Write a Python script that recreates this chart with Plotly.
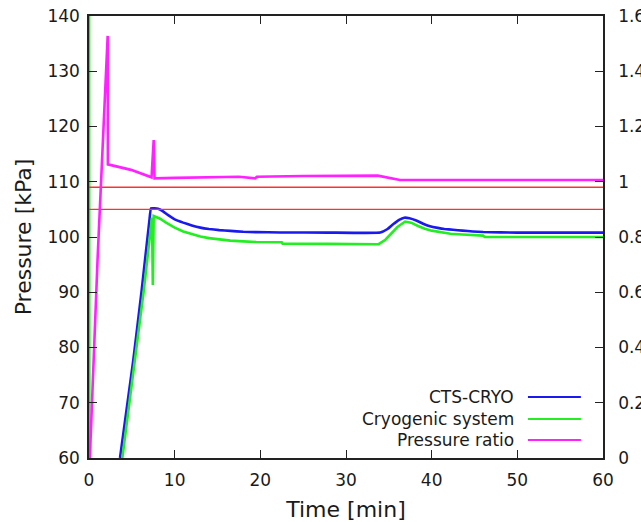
import plotly.graph_objects as go

# ---------------- data ----------------
cts_time = [3.62, 5.17, 6.15, 7.05, 7.24, 8.05, 8.6, 9.2, 10.0, 11.0, 12.0, 13.0, 14.0, 15.2, 16.5, 18.0, 19.5, 22.3,
            28.0, 34.0, 34.8, 35.5, 36.2, 36.8, 37.4, 38.2, 39.0, 39.8, 40.7, 41.5, 42.5, 43.6, 44.8, 46.0, 50.0, 60.0]
cts_pressure = [60.0, 77.7, 90.4, 103.0, 105.2, 105.1, 104.7, 104.0, 103.2, 102.6, 102.1, 101.7, 101.45, 101.25,
                101.1, 100.95, 100.88, 100.82, 100.8, 100.8, 101.4, 102.3, 103.1, 103.5, 103.4, 103.0, 102.4,
                101.95, 101.65, 101.45, 101.3, 101.15, 101.0, 100.9, 100.8, 100.8]

cryo_time = [0.0, 0.05, 3.89, 5.4, 6.4, 7.35, 7.45, 7.55, 8.3, 9.0, 10.0, 11.0, 12.0, 13.0, 14.0, 15.2, 16.5, 18.0,
             19.5, 22.5, 22.6, 28.0, 33.8, 34.6, 35.3, 36.0, 36.9, 37.6, 38.4, 39.2, 40.0, 41.0, 42.2, 43.6, 44.8,
             46.0, 46.2, 50.0, 60.0]
cryo_pressure = [160.0, 20.0, 60.0, 77.7, 90.4, 103.5, 91.3, 103.8, 103.3, 102.6, 101.7, 101.0, 100.5, 100.1, 99.8,
                 99.55, 99.35, 99.2, 99.1, 99.05, 98.8, 98.75, 98.7, 99.5, 100.6, 101.8, 102.8, 102.6, 102.0, 101.5,
                 101.15, 100.85, 100.6, 100.45, 100.3, 100.25, 100.0, 100.0, 100.0]

ratio_time = [0.1, 1.0, 2.18, 2.2, 4.9, 7.3, 7.55, 7.65, 10.0, 14.0, 16.8, 17.3, 17.5, 19.4, 19.6, 25.0, 33.7,
              36.3, 45.0, 60.0]
pressure_ratio = [0.0, 0.72, 1.528, 1.063, 1.043, 1.016, 1.151, 1.0125, 1.014, 1.016, 1.018, 1.016, 1.018, 1.0125,
                  1.018, 1.021, 1.022, 1.0063, 1.0063, 1.0063]

reference_levels = [109.0, 105.0]
time_span = [0.0, 60.0]

series_names = ["CTS-CRYO", "Cryogenic system", "Pressure ratio"]
series_colors = ["#1a1aee", "#22ee22", "#ff22ff"]

x_ticks = [0, 10, 20, 30, 40, 50, 60]
y_ticks = [60, 70, 80, 90, 100, 110, 120, 130, 140]
y2_ticks = [0, 0.2, 0.4, 0.6, 0.8, 1.0, 1.2, 1.4, 1.6]

# ---------------- figure ----------------
FONT = "DejaVu Sans"
TXT = "#1a1a1a"

fig = go.Figure()
fig.add_trace(go.Scatter(x=cts_time, y=cts_pressure, mode="lines", name=series_names[0],
                         line=dict(color=series_colors[0], width=2.6, shape="spline", smoothing=0.3),
                         showlegend=False))
fig.add_trace(go.Scatter(x=cryo_time, y=cryo_pressure, mode="lines", name=series_names[1],
                         line=dict(color=series_colors[1], width=2.6), showlegend=False))
fig.add_trace(go.Scatter(x=ratio_time, y=pressure_ratio, mode="lines", name=series_names[2],
                         yaxis="y2", line=dict(color=series_colors[2], width=2.6), showlegend=False))
for lvl in reference_levels:
    fig.add_trace(go.Scatter(x=time_span, y=[lvl, lvl], mode="lines",
                             line=dict(color="#ff3030", width=1.3), showlegend=False, hoverinfo="skip"))

axis_common = dict(showline=True, linecolor="#222", linewidth=1.5, ticks="inside", ticklen=8,
                   tickcolor="#222", tickwidth=1.2, showgrid=False, zeroline=False, automargin=False,
                   tickfont=dict(family=FONT, size=17, color=TXT))

fig.update_layout(
    width=641, height=522,
    margin=dict(l=89, r=38, t=16, b=64),
    plot_bgcolor="white", paper_bgcolor="white",
    xaxis=dict(range=[0, 60], tickvals=x_ticks, mirror="ticks", ticklabelstandoff=6,
               title=dict(text="Time [min]", font=dict(family=FONT, size=22, color=TXT), standoff=13),
               **axis_common),
    yaxis=dict(range=[60, 140], tickvals=y_ticks, mirror=True, ticklabelstandoff=4,
               title=dict(text="Pressure [kPa]", font=dict(family=FONT, size=22, color=TXT), standoff=10),
               **axis_common),
    yaxis2=dict(range=[0, 1.6], tickvals=y2_ticks, overlaying="y", side="right", anchor="x",
                ticklabelstandoff=10, **axis_common),
)

# manual legend: text right-aligned with line sample on the right
legend_rows = [0.138, 0.0882, 0.0407]
for name, color, yy in zip(series_names, series_colors, legend_rows):
    fig.add_annotation(x=0.831, y=yy, xref="paper", yref="paper", text=name, showarrow=False,
                       xanchor="right", yanchor="middle", font=dict(family=FONT, size=17, color=TXT))
    fig.add_shape(type="line", xref="paper", yref="paper", x0=0.854, x1=0.957, y0=yy, y1=yy,
                  line=dict(color=color, width=2))

fig.write_html("out.html")
